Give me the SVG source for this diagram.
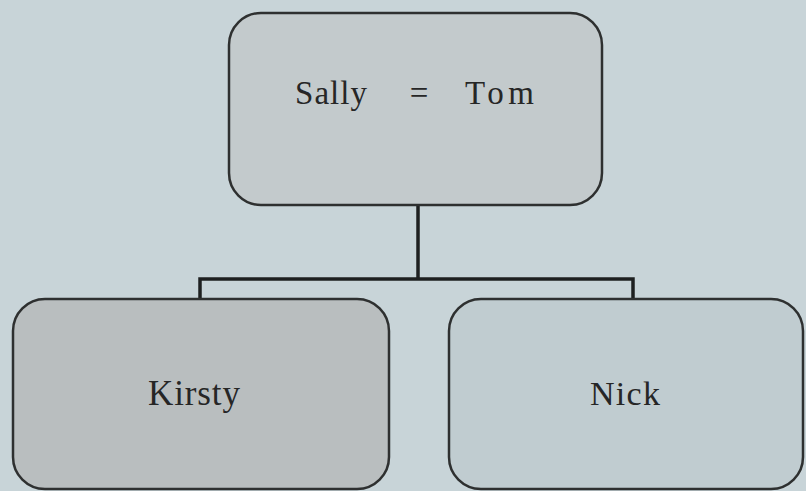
<svg xmlns="http://www.w3.org/2000/svg" width="806" height="491" viewBox="0 0 806 491">
<style>
.box{stroke:#2e3030;stroke-width:2.5}
.lbl{font-family:"Liberation Serif","Times New Roman",serif;fill:#262626}
.conn{fill:none;stroke:#1e2020;stroke-width:3.5}
</style>
<rect width="806" height="491" fill="#c8d4d8"/>
<g id="connectors">
<path class="conn" d="M418,205 V279"/>
<path class="conn" d="M200,298 V279 H633 V298"/>
</g>
<g id="sally-tom">
<rect class="box" x="229" y="13" width="373" height="192" rx="32" fill="#c3cacc"/>
<text class="lbl" x="295" y="104" font-size="33" textLength="72">Sally</text>
<text class="lbl" x="419" y="104" font-size="33" text-anchor="middle">=</text>
<text class="lbl" x="465" y="104" font-size="33" textLength="69">Tom</text>
</g>
<g id="kirsty">
<rect class="box" x="13" y="299" width="376" height="190" rx="32" fill="#b9bebf"/>
<text class="lbl" x="148" y="405" font-size="35" textLength="92">Kirsty</text>
</g>
<g id="nick">
<rect class="box" x="449" y="299" width="354" height="190" rx="32" fill="#c0ccd0"/>
<text class="lbl" x="590" y="405" font-size="34" textLength="70">Nick</text>
</g>
</svg>
